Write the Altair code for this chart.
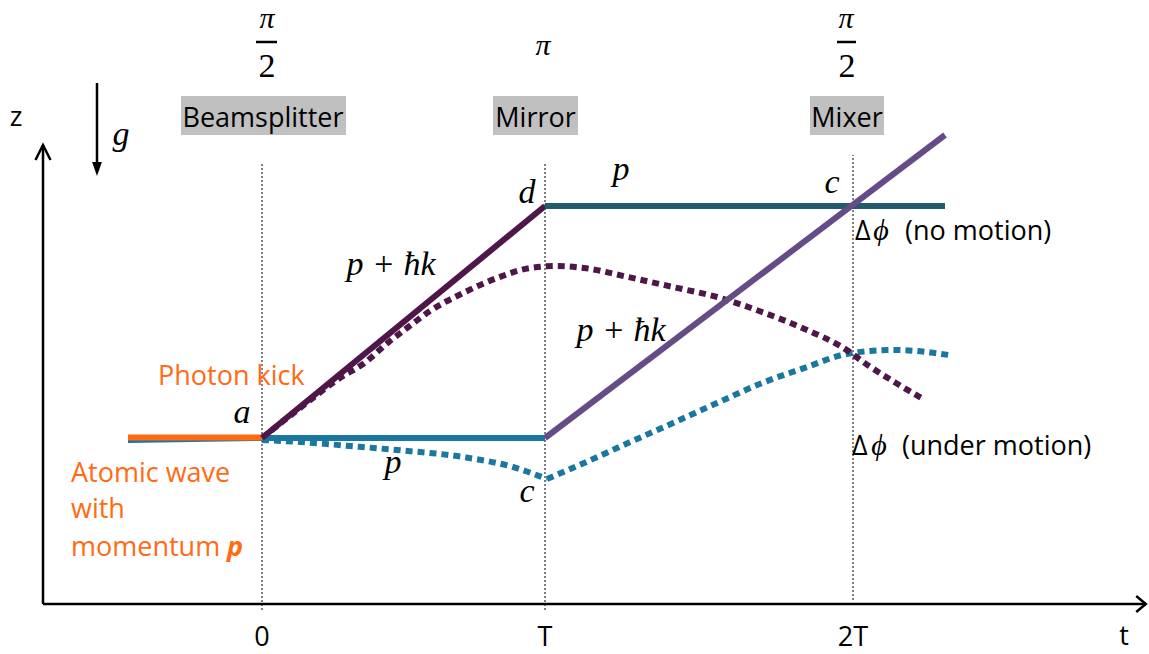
import altair as alt
import pandas as pd

W, H = 1149, 654

# ---- diagram coordinates: t (time) horizontally, z (height) vertically ----
T_DOMAIN = [-2.62, 8.87]
Z_DOMAIN = [-0.50, 6.04]

# laser pulses
PULSE_T = [0.0, 2.83, 5.91]
PULSE_TICKS = ["0", "T", "2T"]
PULSE_NAMES = ["Beamsplitter", "Mirror", "Mixer"]
PULSE_NAME_T = [0.01, 2.735, 5.85]
BOX_T0 = [-0.81, 2.31, 5.48]
BOX_T1 = [0.84, 3.16, 6.22]
BOX_Z = [4.69, 5.08]
GUIDE_Z0 = [-0.06, -0.06, 0.04]
GUIDE_Z1 = [4.41, 4.40, 4.49]

# pulse areas written above the boxes
AREA_NUM = ["π", "π", "π"]
AREA_NUM_T = [0.05, 2.81, 5.84]
AREA_NUM_Z = [5.765, 5.49, 5.765]
AREA_DEN = ["2", "2"]
AREA_DEN_T = [0.05, 5.85]
AREA_DEN_Z = [5.27, 5.27]
BAR_T0 = [-0.06, 5.75]
BAR_T1 = [0.15, 5.94]
BAR_Z = [5.62, 5.62]

# trajectories without gravity (solid)
INCOMING_T = [-1.34, 0.0]
INCOMING_Z = [1.665, 1.665]
LOWER_P_T = [-1.34, 0.0, 2.83]
LOWER_P_Z = [1.64, 1.66, 1.66]
UPPER_KICK_T = [0.0, 2.83]
UPPER_KICK_Z = [1.66, 3.98]
UPPER_P_T = [2.83, 6.83]
UPPER_P_Z = [3.98, 3.98]
LOWER_KICK_T = [2.83, 6.83]
LOWER_KICK_Z = [1.66, 4.69]

# trajectories under gravity (dotted)
FALL_UPPER_T = [0.0, 0.38, 0.78, 1.01, 1.28, 1.45, 1.68, 2.01, 2.35, 2.68, 2.95,
                3.22, 3.66, 4.11, 4.55, 5.00, 5.45, 5.80, 6.07, 6.34, 6.63]
FALL_UPPER_Z = [1.66, 1.96, 2.26, 2.40, 2.63, 2.76, 2.93, 3.11, 3.26, 3.36, 3.38,
                3.36, 3.27, 3.17, 3.07, 2.92, 2.74, 2.57, 2.38, 2.21, 2.04]
FALL_LOWER_A_T = [0.0, 0.38, 0.88, 1.35, 2.01, 2.51, 2.85]
FALL_LOWER_A_Z = [1.64, 1.62, 1.58, 1.54, 1.47, 1.37, 1.25]
FALL_LOWER_B_T = [2.85, 3.22, 3.66, 4.11, 4.55, 5.00, 5.45, 5.80, 6.08, 6.34, 6.87]
FALL_LOWER_B_Z = [1.25, 1.41, 1.61, 1.81, 2.01, 2.21, 2.37, 2.49, 2.53, 2.54, 2.49]

# axes and gravity arrow
AXIS_T0, AXIS_T1 = -2.19, 8.84
AXIS_Z1 = 4.59
G_T = -1.65
G_Z = [5.21, 4.40]

# colours
ORANGE = "#ff6a12"
PURPLE_DARK = "#4f1749"
PURPLE = "#654c86"
TEAL = "#225b69"
BLUE = "#1a77a0"
BOX_GREY = "#c0c0c0"
GUIDE_GREY = "#808080"

SANS = "Open Sans"
SERIF = "Liberation Serif"
SANS_SIZE = 27

X = lambda f="t": alt.X(f"{f}:Q", scale=alt.Scale(domain=T_DOMAIN, nice=False, zero=False), axis=None)
Y = lambda f="z": alt.Y(f"{f}:Q", scale=alt.Scale(domain=Z_DOMAIN, nice=False, zero=False), axis=None)


def path(t, z, color, width, dash=None, interp="linear"):
    df = pd.DataFrame({"t": t, "z": z, "i": list(range(len(t)))})
    kw = dict(color=color, strokeWidth=width, interpolate=interp, strokeCap="butt")
    if dash:
        kw["strokeDash"] = dash
    return alt.Chart(df).mark_line(**kw).encode(x=X(), y=Y(), order="i:Q")


def texts(labels, t, z, font, size, color="black", align="center", style="normal", weight="normal"):
    df = pd.DataFrame({"t": t, "z": z, "label": labels})
    return alt.Chart(df).mark_text(
        font=font, fontSize=size, color=color, align=align, baseline="alphabetic",
        fontStyle=style, fontWeight=weight,
    ).encode(x=X(), y=Y(), text="label:N")


# dotted guides at each pulse
guides = alt.Chart(pd.DataFrame({"t": PULSE_T, "z0": GUIDE_Z0, "z1": GUIDE_Z1})).mark_rule(
    color=GUIDE_GREY, strokeWidth=2, strokeDash=[2, 2]
).encode(x=X(), y=Y("z0"), y2="z1:Q")

boxes = alt.Chart(pd.DataFrame({"t0": BOX_T0, "t1": BOX_T1, "z0": BOX_Z[0], "z1": BOX_Z[1]})).mark_rect(
    color=BOX_GREY
).encode(x=X("t0"), x2="t1:Q", y=Y("z0"), y2="z1:Q")

bars = alt.Chart(pd.DataFrame({"t0": BAR_T0, "t1": BAR_T1, "z": BAR_Z})).mark_rule(
    color="black", strokeWidth=2.5
).encode(x=X("t0"), x2="t1:Q", y=Y())

# axes
t_axis = alt.Chart(pd.DataFrame({"t0": [AXIS_T0], "t1": [AXIS_T1], "z": [0.0]})).mark_rule(
    color="black", strokeWidth=2.5
).encode(x=X("t0"), x2="t1:Q", y=Y())
z_axis = alt.Chart(pd.DataFrame({"t": [AXIS_T0], "z0": [0.0], "z1": [AXIS_Z1]})).mark_rule(
    color="black", strokeWidth=2.5
).encode(x=X(), y=Y("z0"), y2="z1:Q")
t_head = alt.Chart(pd.DataFrame({"t": [AXIS_T1 - 0.05], "z": [0.0]})).mark_point(
    shape="M-0.6,-1L0.6,0L-0.6,1", filled=False, stroke="black", strokeWidth=2.5, size=256, opacity=1
).encode(x=X(), y=Y())
z_head = alt.Chart(pd.DataFrame({"t": [AXIS_T0], "z": [AXIS_Z1 - 0.075]})).mark_point(
    shape="M-1,1L0,-1L1,1", filled=False, stroke="black", strokeWidth=2.5, size=225, opacity=1
).encode(x=X(), y=Y())

g_line = alt.Chart(pd.DataFrame({"t": [G_T], "z0": [G_Z[0]], "z1": [G_Z[1]]})).mark_rule(
    color="black", strokeWidth=2.5
).encode(x=X(), y=Y("z0"), y2="z1:Q")
g_head = alt.Chart(pd.DataFrame({"t": [G_T], "z": [G_Z[1] - 0.05]})).mark_point(
    shape="M-0.7,-1L0.7,-1L0,1Z", filled=True, color="black", size=196, opacity=1
).encode(x=X(), y=Y())

layers = [
    guides, boxes, bars,
    path(FALL_LOWER_A_T, FALL_LOWER_A_Z, BLUE, 6, [7, 5], "monotone"),
    path(FALL_LOWER_B_T, FALL_LOWER_B_Z, BLUE, 6, [7, 5], "monotone"),
    path(FALL_UPPER_T, FALL_UPPER_Z, PURPLE_DARK, 6, [7, 5], "monotone"),
    path(LOWER_P_T, LOWER_P_Z, BLUE, 6),
    path(INCOMING_T, INCOMING_Z, ORANGE, 6),
    path(UPPER_KICK_T, UPPER_KICK_Z, PURPLE_DARK, 6),
    path(UPPER_P_T, UPPER_P_Z, TEAL, 6),
    path(LOWER_KICK_T, LOWER_KICK_Z, PURPLE, 6),
    t_axis, z_axis, t_head, z_head, g_line, g_head,
    # pulse names and tick labels
    texts(PULSE_NAMES, PULSE_NAME_T, [4.77] * 3, SANS, SANS_SIZE),
    texts(PULSE_TICKS, PULSE_T, [-0.42] * 3, SANS, SANS_SIZE),
    texts(["z", "t"], [-2.46, 8.62], [4.78, -0.41], SANS, SANS_SIZE),
    # pulse areas
    texts(AREA_NUM, AREA_NUM_T, AREA_NUM_Z, SERIF, 30, style="italic"),
    texts(AREA_DEN, AREA_DEN_T, AREA_DEN_Z, SERIF, 34),
    # phase read-outs
    texts(["Δ", "Δ"], [5.93, 5.90], [3.64, 1.49], SANS, 27, align="left"),
    texts(["ϕ", "ϕ"], [6.19, 6.17], [3.64, 1.49], SERIF, 30, style="italic"),
    texts(["(no motion)", "(under motion)"], [6.43, 6.40], [3.64, 1.49], SANS, SANS_SIZE, align="left"),
    # math labels on the paths
    texts(["g", "d", "p", "c", "p + ħk", "p + ħk", "a", "p", "c"],
          [-1.41, 2.65, 3.59, 5.70, 1.29, 3.59, -0.20, 1.31, 2.65],
          [4.59, 4.01, 4.24, 4.11, 3.29, 2.63, 1.81, 1.31, 1.02],
          SERIF, 34, style="italic"),
    # incoming wave description
    texts(["Photon kick", "Atomic wave", "with", "momentum"],
          [-1.04, -1.91, -1.91, -1.91], [2.19, 1.225, 0.86, 0.48],
          SANS, SANS_SIZE, color=ORANGE, align="left"),
    texts(["p"], [-0.35], [0.48], SANS, SANS_SIZE, color=ORANGE, align="left", style="italic", weight="bold"),
]

chart = alt.layer(*layers).properties(
    width=W, height=H, padding=0, autosize=alt.AutoSizeParams(type="none"), background="white"
).configure_view(stroke=None)

chart.save("out.html", embed_options={"renderer": "svg", "actions": False})
